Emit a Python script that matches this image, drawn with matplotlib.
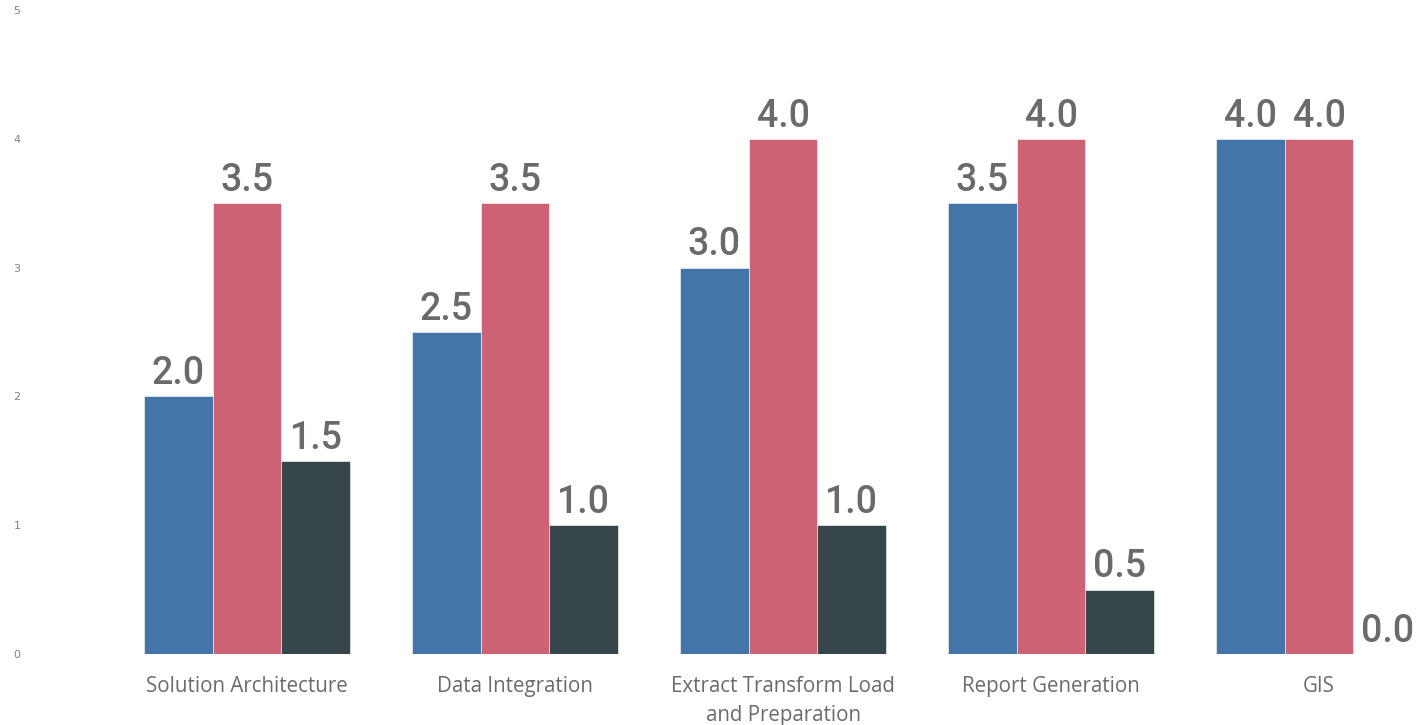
import matplotlib
matplotlib.use("Agg")
import matplotlib.pyplot as plt
import numpy as np
from matplotlib import font_manager

categories = ["Solution Architecture", "Data Integration",
              "Extract Transform Load\nand Preparation", "Report Generation", "GIS"]
series_a = [2.0, 2.5, 3.0, 3.5, 4.0]
series_b = [3.5, 3.5, 4.0, 4.0, 4.0]
series_c = [1.5, 1.0, 1.0, 0.5, 0.0]
y_ticks = [0, 1, 2, 3, 4, 5]

colors = ["#4375a8", "#cc6273", "#37464a"]

names = {f.name for f in font_manager.fontManager.ttflist}
label_font = "Roboto" if "Roboto" in names else "DejaVu Sans"
cat_font = "Open Sans" if "Open Sans" in names else "DejaVu Sans"

W, H = 1421, 725
fig = plt.figure(figsize=(W / 100, H / 100), dpi=100)
left_px, right_px, bottom_px, top_px = 40, 1421, 654, 10
ax = fig.add_axes([left_px / W, 1 - bottom_px / H,
                   (right_px - left_px) / W, (bottom_px - top_px) / H])

x = np.arange(len(categories))
bw = 0.257
for i, vals in enumerate([series_a, series_b, series_c]):
    pos = x + (i - 1) * bw
    ax.bar(pos, vals, width=bw, color=colors[i], edgecolor="white", linewidth=0.4)
    for xi, v in zip(pos, vals):
        ax.annotate(f"{v:.1f}", (xi, v), xytext=(0, 3), textcoords="offset points",
                    ha="center", va="bottom", fontsize=27, color="#6a6a6a",
                    family=label_font, fontweight="medium")

c0, step = 247, 268
ax.set_xlim((left_px - c0) / step, (right_px - c0) / step)
ax.set_ylim(0, 5)
ax.set_yticks(y_ticks)
ax.set_yticklabels([str(t) for t in y_ticks], fontsize=8, color="#7a8290")
ax.set_xticks(x)
ax.set_xticklabels(categories, fontsize=14.8, color="#6b6b6b", family=cat_font,
                   linespacing=1.5)
ax.tick_params(axis="both", length=0)
ax.tick_params(axis="x", pad=16)
ax.tick_params(axis="y", pad=14)
for s in ax.spines.values():
    s.set_visible(False)

fig.savefig("out.png", dpi=100)
